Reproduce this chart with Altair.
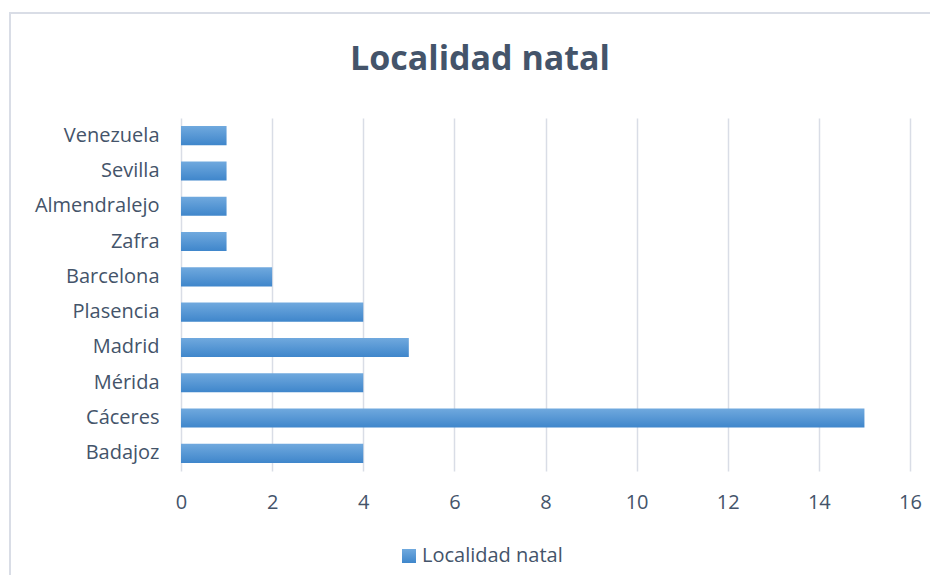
import altair as alt
import pandas as pd

categories = ["Venezuela", "Sevilla", "Almendralejo", "Zafra", "Barcelona",
              "Plasencia", "Madrid", "Mérida", "Cáceres", "Badajoz"]
values = [1, 1, 1, 1, 2, 4, 5, 4, 15, 4]
x_ticks = [0, 2, 4, 6, 8, 10, 12, 14, 16]
series_name = "Localidad natal"
title_text = "Localidad natal"

df = pd.DataFrame({"localidad": categories, "n": values})

FONT = "Open Sans"
TXT = "#44546A"
FS = 20
W, H = 729, 353

grad = alt.Gradient(
    gradient="linear",
    stops=[alt.GradientStop(color="#70A9DE", offset=0),
           alt.GradientStop(color="#3F86CB", offset=1)],
    x1=0, x2=0, y1=0, y2=1,
)

bars = alt.Chart(df).mark_bar(fill=grad).encode(
    x=alt.X("n:Q", scale=alt.Scale(domain=[0, 16], nice=False),
            axis=alt.Axis(values=x_ticks, title=None, grid=True,
                          gridColor="#D9DDE6", gridWidth=1.5,
                          domain=False, ticks=False, labelPadding=21,
                          labelFlush=False,
                          labelFont=FONT, labelFontSize=FS, labelColor=TXT)),
    y=alt.Y("localidad:N", sort=categories,
            scale=alt.Scale(paddingInner=0.46, paddingOuter=0.23),
            axis=alt.Axis(title=None, domain=False, ticks=False, grid=False,
                          labelPadding=22, labelFont=FONT, labelFontSize=FS,
                          labelColor=TXT)),
)

# chart frame
frame = alt.Chart(df).mark_rect(fill=None, stroke="#D9DDE6", strokeWidth=1.5).encode(
    x=alt.value(-171), x2=alt.value(W + 60),
    y=alt.value(-105), y2=alt.value(H + 120),
)

# title
title = alt.Chart(pd.DataFrame({"t": [title_text]})).mark_text(
    align="center", baseline="middle", font=FONT, fontSize=34,
    fontWeight="bold", color=TXT
).encode(x=alt.value(299), y=alt.value(-58), text="t:N")

# legend
leg_sym = alt.Chart(df).mark_rect(fill=grad).encode(
    x=alt.value(221), x2=alt.value(235),
    y=alt.value(431), y2=alt.value(445),
)
leg_txt = alt.Chart(pd.DataFrame({"t": [series_name]})).mark_text(
    align="left", baseline="middle", font=FONT, fontSize=FS, color=TXT
).encode(x=alt.value(241), y=alt.value(438), text="t:N")

chart = alt.layer(frame, bars, title, leg_sym, leg_txt).properties(
    width=W, height=H,
    autosize=alt.AutoSizeParams(type="none"),
    padding={"left": 173, "top": 110, "right": 20, "bottom": 104},
).configure_view(stroke=None)

chart.save("out.html", embed_options={"renderer": "svg", "actions": False})
